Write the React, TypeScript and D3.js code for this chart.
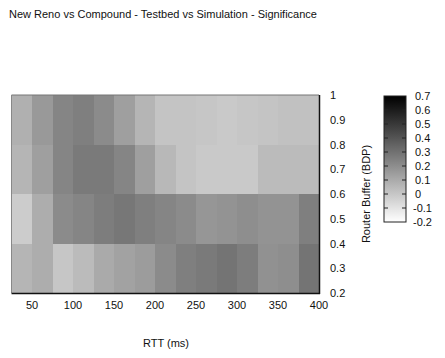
import React from "react";
import * as d3 from "d3";

const rttEdges = [25, 50, 75, 100, 125, 150, 175, 200, 225, 250, 275, 300, 325, 350, 375, 400];
const bufferEdges = [0.2, 0.4, 0.6, 0.8, 1.0];

// significance values, rows bottom (0.2-0.4) to top (0.8-1.0), columns by RTT
const row02 = [0.06, 0.09, 0.0, 0.04, 0.1, 0.13, 0.15, 0.21, 0.25, 0.27, 0.29, 0.26, 0.19, 0.2, 0.29];
const row04 = [-0.02, 0.09, 0.21, 0.23, 0.26, 0.28, 0.25, 0.23, 0.21, 0.17, 0.18, 0.2, 0.18, 0.18, 0.25];
const row06 = [0.06, 0.14, 0.23, 0.27, 0.27, 0.23, 0.14, 0.05, 0.01, -0.01, -0.01, -0.01, 0.04, 0.04, 0.04];
const row08 = [0.08, 0.16, 0.23, 0.25, 0.21, 0.14, 0.06, 0.01, 0.01, 0.0, -0.01, 0.0, 0.01, 0.02, 0.02];
const rows = [row02, row04, row06, row08];

const xTicks = [50, 100, 150, 200, 250, 300, 350, 400];
const yTicks = [0.2, 0.3, 0.4, 0.5, 0.6, 0.7, 0.8, 0.9, 1];
const cbTicks = [-0.2, -0.1, 0, 0.1, 0.2, 0.3, 0.4, 0.5, 0.6, 0.7];

const title = "New Reno vs Compound - Testbed vs Simulation - Significance";
const xLabel = "RTT (ms)";
const yLabel = "Router Buffer (BDP)";

export default function App() {
  const W = 445, H = 358;
  const x = d3.scaleLinear().domain([25, 400]).range([11.5, 319]);
  const y = d3.scaleLinear().domain([0.2, 1]).range([293, 95]);
  const color = d3.scaleLinear<string>().domain([-0.2, 0.7]).range(["#ffffff", "#000000"]);
  const cbY = d3.scaleLinear().domain([-0.2, 0.7]).range([222, 96]);
  const cbX0 = 384, cbX1 = 406;
  const font = "'Liberation Sans', Arial, Helvetica, sans-serif";
  const gradStops = d3.range(0, 11).map((i) => i / 10);

  return (
    <svg width={W} height={H} style={{ position: "absolute", left: 0, top: 0, background: "#fff" }} fontFamily={font}>
      <defs>
        <linearGradient id="cb" x1="0" y1="1" x2="0" y2="0">
          {gradStops.map((t) => (
            <stop key={t} offset={t} stopColor={color(-0.2 + t * 0.9)} />
          ))}
        </linearGradient>
      </defs>
      <rect x={0} y={0} width={W} height={H} fill="#fff" />
      <text x={9} y={18} fontSize={11} fill="#111">{title}</text>

      {rows.map((row, ri) =>
        row.map((v, ci) => (
          <rect
            key={`${ri}-${ci}`}
            x={x(rttEdges[ci])}
            y={y(bufferEdges[ri + 1])}
            width={x(rttEdges[ci + 1]) - x(rttEdges[ci])}
            height={y(bufferEdges[ri]) - y(bufferEdges[ri + 1])}
            fill={color(v)}
            shapeRendering="crispEdges"
          />
        ))
      )}
      {/* frame */}
      <line x1={x(25)} x2={x(400)} y1={y(1)} y2={y(1)} stroke="#777" strokeWidth={1} />
      <line x1={x(25)} x2={x(25)} y1={y(1)} y2={y(0.2)} stroke="#888" strokeWidth={1} />
      <line x1={x(25)} x2={x(400) + 1} y1={y(0.2) + 0.5} y2={y(0.2) + 0.5} stroke="#111" strokeWidth={1.5} />
      <line x1={x(400) + 0.5} x2={x(400) + 0.5} y1={y(1)} y2={y(0.2) + 1} stroke="#111" strokeWidth={1.5} />

      {xTicks.map((t) => (
        <text key={t} x={x(t)} y={309} fontSize={11} textAnchor="middle" fill="#111">{t}</text>
      ))}
      {yTicks.map((t) => (
        <text key={t} x={330} y={y(t) + 4} fontSize={11} fill="#111">{d3.format("~g")(t)}</text>
      ))}
      <text x={166} y={347} fontSize={11} textAnchor="middle" fill="#111">{xLabel}</text>
      <text transform={`translate(370,${(y(1) + y(0.2)) / 2}) rotate(-90)`} fontSize={11} textAnchor="middle" fill="#111">{yLabel}</text>

      {/* colorbar */}
      <rect x={cbX0} y={cbY(0.7)} width={cbX1 - cbX0} height={cbY(-0.2) - cbY(0.7)} fill="url(#cb)" stroke="#222" strokeWidth={1} />
      {cbTicks.slice(1, -1).map((t) => (
        <g key={t}>
          <line x1={cbX0} x2={cbX0 + 4} y1={cbY(t)} y2={cbY(t)} stroke="#222" strokeWidth={1} />
          <line x1={cbX1 - 4} x2={cbX1} y1={cbY(t)} y2={cbY(t)} stroke="#222" strokeWidth={1} />
        </g>
      ))}
      {cbTicks.map((t) => (
        <text key={t} x={t < 0 ? 413 : 415} y={cbY(t) + 4} fontSize={11} fill="#111">{d3.format("~g")(t).replace("−", "-")}</text>
      ))}
    </svg>
  );
}
